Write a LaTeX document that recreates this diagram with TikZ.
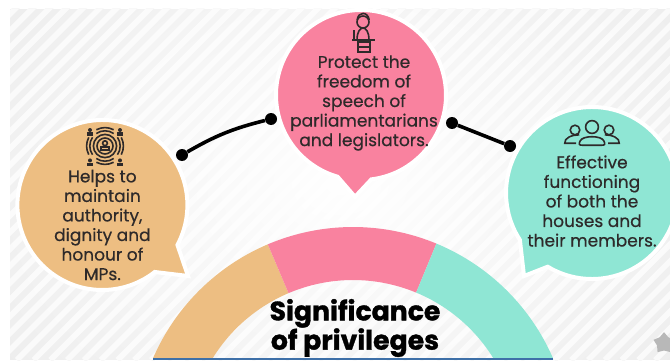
\documentclass[tikz,border=0pt]{standalone}
\usepackage{fontspec}
\setmainfont{Poppins}[RawFeature={embolden=0.5}]
\newfontfamily\titlefont{Poppins Bold}[RawFeature={embolden=1.2}]
\usetikzlibrary{fadings,shapes.geometric}

\definecolor{sandcol}{HTML}{EDBE82}
\definecolor{rosecol}{HTML}{F9829F}
\definecolor{mintcol}{HTML}{8FE6D4}
\definecolor{inkcol}{HTML}{2E2A2A}
\definecolor{bluecol}{HTML}{3E70A8}

\tikzfading[name=centrefade, inner color=transparent!0, outer color=transparent!100]

\tikzset{
  bubble/.style={draw=white, line width=0.1cm, line join=miter},
  bubbletext/.style={align=center, text=inkcol, font=\fontsize{12.1}{13.9}\selectfont, inner sep=0pt},
  linkdot/.style={circle, fill=black, minimum size=0.3cm, inner sep=0pt},
  link/.style={line width=0.09cm, black},
  icon/.style={draw=inkcol, line width=0.04cm},
}

\begin{document}
\begin{tikzpicture}
  \clip (0, 0) rectangle (16.75, 9);
  \fill[white] (0, 0) rectangle (16.75, 9);

  % backdrop
  \fill[black!14] (0.25, 0) rectangle (16.75, 8.775);
  \begin{scope}
    \clip (0.25, 0) rectangle (16.75, 8.775);
    \foreach \i in {-30,...,60} {
      \draw[black!4, line width=0.14cm] (0.42*\i, 0) -- ++(9, 9);
    }
    \fill[white, path fading=centrefade] (8.5, 4.4) ellipse [x radius=12cm, y radius=9cm];
    \fill[white, opacity=0.45] (0.25, 0) rectangle (16.75, 8.775);
  \end{scope}
  \node[star, star points=5, fill=black!28, minimum size=0.55cm, inner sep=0pt] (corner) at (16.6, 0.42) {};

  % half ring
  \begin{scope}
    \clip (0, 0.06) rectangle (16.75, 9);
    \fill[sandcol] (8.825, -2.125) ++(113:5.45) arc [start angle=113, end angle=160, radius=5.45]
      -- ([shift={(8.825, -2.125)}]160:4.125) arc [start angle=160, end angle=113, radius=4.125] -- cycle;
    \fill[rosecol] (8.825, -2.125) ++(67.5:5.45) arc [start angle=67.5, end angle=113, radius=5.45]
      -- ([shift={(8.825, -2.125)}]113:4.125) arc [start angle=113, end angle=67.5, radius=4.125] -- cycle;
    \fill[mintcol] (8.825, -2.125) ++(20:5.45) arc [start angle=20, end angle=67.5, radius=5.45]
      -- ([shift={(8.825, -2.125)}]67.5:4.125) arc [start angle=67.5, end angle=20, radius=4.125] -- cycle;
  \end{scope}
  \fill[bluecol] (3.825, 0) rectangle (13.825, 0.06);

  \node[align=center, font=\fontsize{19}{20.8}\selectfont\titlefont, text=black, inner sep=0pt] (title) at (8.875, 0.8)
    {Significance\\of privileges};

  % bubbles
  \filldraw[bubble, fill=sandcol] (4.7, 2.1)
    -- ([shift={(2.56, 3.875)}]-28:2.125) arc [start angle=-28, end angle=308, radius=2.125] -- cycle;
  \filldraw[bubble, fill=rosecol] (8.875, 4.08)
    -- ([shift={(9.025, 6.625)}]-83:2.125) arc [start angle=-83, end angle=254, radius=2.125] -- cycle;
  \filldraw[bubble, fill=mintcol] (13.1, 2.1)
    -- ([shift={(14.8, 4.175)}]-121:2.15) arc [start angle=-121, end angle=213, radius=2.15] -- cycle;

  \node[bubbletext] (maintain) at (2.56, 3.375)
    {Helps to\\maintain\\authority,\\dignity and\\honour of\\MPs.};
  \node[bubbletext] (protect) at (9.1, 6.425)
    {Protect the\\freedom of\\speech of\\parliamentarians\\and legislators.};
  \node[bubbletext] (effective) at (14.8, 3.975)
    {Effective\\functioning\\of both the\\houses and\\their members.};

  % links
  \node[linkdot] (dotA) at (4.55, 5.125) {};
  \node[linkdot] (dotB) at (6.775, 6.025) {};
  \node[linkdot] (dotC) at (11.3, 5.925) {};
  \node[linkdot] (dotD) at (12.75, 5.35) {};
  \draw[link] (dotA) to[bend left=8] (dotB);
  \draw[link] (dotC) -- (dotD);

  % speaker icon
  \draw[icon] (9.075, 8.45) circle [radius=0.15];
  \draw[icon] (8.93, 8.5) .. controls (8.95, 8.72) and (9.2, 8.72) .. (9.23, 8.5);
  \draw[icon] (8.925, 8.0) .. controls (8.925, 8.4) and (9.225, 8.4) .. (9.225, 8.0);
  \draw[icon, line width=0.06cm] (8.8, 8.0) -- (9.375, 8.0);
  \draw[icon] (8.85, 8.0) -- (8.85, 8.25);
  \draw[icon] (8.95, 7.95) rectangle (9.25, 7.7);
  \draw[icon] (8.95, 7.82) -- (9.25, 7.82);

  % target icon
  \draw[icon] (2.625, 5.35) circle [radius=0.2];
  \draw[icon] (2.625, 5.35) circle [radius=0.29];
  \draw[icon] (2.625, 5.42) circle [radius=0.06];
  \draw[icon] (2.53, 5.25) rectangle (2.72, 5.33);
  \foreach \a in {0,90,180,270} {
    \draw[icon] ([shift={(2.625, 5.35)}]\a-35:0.38) arc [start angle=\a-35, end angle=\a+35, radius=0.38];
    \draw[icon] ([shift={(2.625, 5.35)}]\a-28:0.46) arc [start angle=\a-28, end angle=\a+28, radius=0.46];
  }
  \foreach \sx in {-1,1} {
    \foreach \sy in {-1,1} {
      \fill[inkcol] (2.625+0.375*\sx, 5.37+0.38*\sy) circle [radius=0.05];
      \fill[inkcol] (2.625+0.375*\sx-0.07, 5.37+0.38*\sy-0.15) rectangle ++(0.14, 0.09);
    }
  }

  % group icon
  \draw[icon] (14.8, 5.825) circle [radius=0.16];
  \draw[icon] (14.375, 5.75) circle [radius=0.12];
  \draw[icon] (15.225, 5.75) circle [radius=0.12];
  \draw[icon] (14.55, 5.37) -- (15.05, 5.37) .. controls (15.13, 5.37) and (15.13, 5.4) .. (15.1, 5.47)
    .. controls (15.05, 5.62) and (14.55, 5.62) .. (14.5, 5.47) .. controls (14.47, 5.4) and (14.47, 5.37) .. (14.55, 5.37);
  \draw[icon] (14.48, 5.63) .. controls (14.3, 5.63) and (14.1, 5.55) .. (14.12, 5.42) -- (14.4, 5.42);
  \draw[icon] (15.12, 5.63) .. controls (15.3, 5.63) and (15.5, 5.55) .. (15.48, 5.42) -- (15.2, 5.42);
\end{tikzpicture}
\end{document}
